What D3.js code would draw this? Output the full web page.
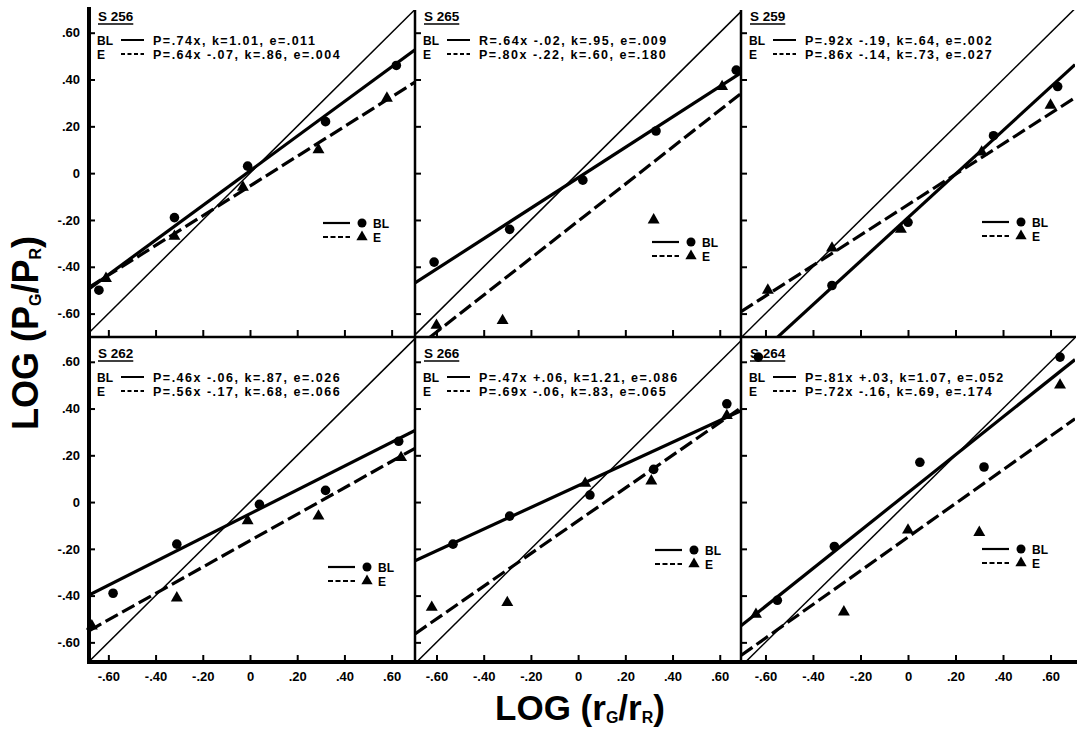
<!DOCTYPE html>
<html>
<head>
<meta charset="utf-8">
<script src="https://cdn.jsdelivr.net/npm/d3@7"></script>
<style>
  body { margin: 0; background: #fff; }
  svg text { font-family: "Liberation Sans", Arial, sans-serif; font-weight: bold; fill: #000; }
</style>
</head>
<body>
<svg id="chart" width="1081" height="729"></svg>
<script>
// ---- data ----
const panelNames = ["S 256", "S 265", "S 259", "S 262", "S 266", "S 264"];

const blEquations = [
    "P=.74x, k=1.01, e=.011",
    "R=.64x -.02, k=.95, e=.009",
    "P=.92x -.19, k=.64, e=.002",
    "P=.46x -.06, k=.87, e=.026",
    "P=.47x +.06, k=1.21, e=.086",
    "P=.81x +.03, k=1.07, e=.052"
];
const eEquations = [
    "P=.64x -.07, k=.86, e=.004",
    "P=.80x -.22, k=.60, e=.180",
    "P=.86x -.14, k=.73, e=.027",
    "P=.56x -.17, k=.68, e=.066",
    "P=.69x -.06, k=.83, e=.065",
    "P=.72x -.16, k=.69, e=.174"
];

// BL points (circles)
const blX = [
    [-0.64, -0.32, -0.01, 0.32, 0.62],
    [-0.61, -0.29, 0.02, 0.33, 0.67],
    [-0.32, 0.00, 0.36, 0.63],
    [-0.58, -0.31, 0.04, 0.32, 0.63],
    [-0.53, -0.29, 0.05, 0.32, 0.63],
    [-0.63, -0.55, -0.31, 0.05, 0.32, 0.64]
];
const blY = [
    [-0.50, -0.19, 0.03, 0.22, 0.46],
    [-0.38, -0.24, -0.03, 0.18, 0.44],
    [-0.48, -0.21, 0.16, 0.37],
    [-0.39, -0.18, -0.01, 0.05, 0.26],
    [-0.18, -0.06, 0.03, 0.14, 0.42],
    [0.62, -0.42, -0.19, 0.17, 0.15, 0.62]
];

// E points (triangles)
const eX = [
    [-0.61, -0.32, -0.03, 0.29, 0.58],
    [-0.60, -0.32, 0.32, 0.61],
    [-0.59, -0.32, -0.03, 0.31, 0.60],
    [-0.67, -0.31, -0.01, 0.29, 0.64],
    [-0.62, -0.30, 0.03, 0.31, 0.63],
    [-0.64, -0.27, 0.00, 0.30, 0.64]
];
const eY = [
    [-0.45, -0.27, -0.06, 0.10, 0.32],
    [-0.65, -0.63, -0.20, 0.37],
    [-0.50, -0.32, -0.24, 0.09, 0.29],
    [-0.53, -0.41, -0.08, -0.06, 0.19],
    [-0.45, -0.43, 0.08, 0.09, 0.37],
    [-0.48, -0.47, -0.12, -0.13, 0.50]
];

// fitted lines as drawn: [slope, intercept]
const blFit = [[0.74, 0.01], [0.65, -0.02], [0.93, -0.19], [0.51, -0.05], [0.465, 0.07], [0.81, 0.04]];
const eFit = [[0.635, -0.055], [0.79, -0.205], [0.65, -0.135], [0.565, -0.165], [0.70, -0.08], [0.72, -0.15]];

const tickValues = [-0.6, -0.4, -0.2, 0, 0.2, 0.4, 0.6];
const tickLabels = ["-.60", "-.40", "-.20", "0", ".20", ".40", ".60"];

// ---- layout ----
const colLeft = [89, 415, 741];
const colWidth = [326, 326, 334];
const rowTop = [10, 337];
const rowHeight = [327, 325];
const textTop = [0, 337];
const xDomains = [[-0.682, 0.699], [-0.691, 0.690], [-0.703, 0.703]];
const yDomains = [[-0.70, 0.697], [-0.684, 0.706]];
// legend: [line start x offset, first row y offset]
const legendPos = [[234, 223], [237, 242], [241, 222], [239, 230], [240, 213], [241, 212]];

const svg = d3.select("#chart");
const fmt = d => tickLabels[tickValues.indexOf(d)];

panelNames.forEach((name, i) => {
    const c = i % 3, r = Math.floor(i / 3);
    const left = colLeft[c], top = rowTop[r];
    const bottom = top + rowHeight[r];

    const x = d3.scaleLinear().domain(xDomains[c]).range([left, left + colWidth[c]]);
    const y = d3.scaleLinear().domain(yDomains[r]).range([bottom, top]);

    svg.append("clipPath").attr("id", "clip" + i)
        .append("rect")
        .attr("x", left).attr("y", top)
        .attr("width", colWidth[c]).attr("height", rowHeight[r]);

    const g = svg.append("g");
    const plot = g.append("g").attr("clip-path", `url(#clip${i})`);
    const line = d3.line().x(d => x(d[0])).y(d => y(d[1]));
    const xd = x.domain();

    // identity line
    plot.append("path")
        .datum(xd.map(v => [v, v]))
        .attr("d", line)
        .attr("fill", "none").attr("stroke", "#000").attr("stroke-width", 1.5);

    // BL fit (solid)
    plot.append("path")
        .datum(xd.map(v => [v, blFit[i][0] * v + blFit[i][1]]))
        .attr("d", line)
        .attr("fill", "none").attr("stroke", "#000").attr("stroke-width", 3.2);

    // E fit (dashed)
    plot.append("path")
        .datum(xd.map(v => [v, eFit[i][0] * v + eFit[i][1]]))
        .attr("d", line)
        .attr("fill", "none").attr("stroke", "#000").attr("stroke-width", 3.2)
        .attr("stroke-dasharray", "14,5");

    // points
    g.selectAll(".bl")
        .data(blX[i].map((v, k) => [v, blY[i][k]]))
        .enter().append("circle")
        .attr("cx", d => x(d[0])).attr("cy", d => y(d[1]))
        .attr("r", 4.8).attr("fill", "#000");

    g.selectAll(".e")
        .data(eX[i].map((v, k) => [v, eY[i][k]]))
        .enter().append("path")
        .attr("d", d3.symbol(d3.symbolTriangle, 62))
        .attr("transform", d => `translate(${x(d[0])},${y(d[1])})`)
        .attr("fill", "#000");

    // ticks (inward)
    g.append("g")
        .attr("transform", `translate(${left},0)`)
        .call(d3.axisRight(y).tickValues(tickValues).tickSize(6).tickFormat(""))
        .call(a => a.select(".domain").remove())
        .call(a => a.selectAll("line").attr("stroke-width", 2));

    g.append("g")
        .attr("transform", `translate(0,${bottom})`)
        .call(d3.axisTop(x).tickValues(tickValues).tickSize(7).tickFormat(""))
        .call(a => a.select(".domain").remove())
        .call(a => a.selectAll("line").attr("stroke-width", 2));

    // tick labels on outer axes
    if (c === 0) {
        g.append("g")
            .attr("transform", `translate(${left - 2},0)`)
            .call(d3.axisLeft(y).tickValues(tickValues).tickSize(0).tickPadding(7).tickFormat(fmt))
            .call(a => a.select(".domain").remove())
            .call(a => a.selectAll("text").style("font-size", "13px"));
    }
    if (r === 1) {
        g.append("g")
            .attr("transform", `translate(0,${bottom + 2})`)
            .call(d3.axisBottom(x).tickValues(tickValues).tickSize(0).tickPadding(8).tickFormat(fmt))
            .call(a => a.select(".domain").remove())
            .call(a => a.selectAll("text").style("font-size", "13px"));
    }

    // panel annotation
    const tt = textTop[r];
    const title = g.append("text")
        .attr("x", left + 9).attr("y", tt + 21)
        .style("font-size", "13.5px")
        .text(name);
    const tw = title.node().getComputedTextLength();
    g.append("line")
        .attr("x1", left + 9).attr("x2", left + 9 + tw)
        .attr("y1", tt + 24).attr("y2", tt + 24)
        .attr("stroke", "#000").attr("stroke-width", 1.6);

    [["BL", blEquations[i], null], ["E", eEquations[i], "4,2.5"]].forEach((row, k) => {
        const yy = tt + 40 + k * 14;
        g.append("text").attr("x", left + 8).attr("y", yy + 4.5)
            .style("font-size", "12px").text(row[0]);
        g.append("line")
            .attr("x1", left + 32).attr("x2", left + 55)
            .attr("y1", yy).attr("y2", yy)
            .attr("stroke", "#000").attr("stroke-width", 2)
            .attr("stroke-dasharray", row[2]);
        g.append("text").attr("x", left + 64).attr("y", yy + 4.5)
            .style("font-size", "12.5px").style("letter-spacing", "1.5px")
            .text(row[1]);
    });

    // small legend
    const [lx, ly] = legendPos[i];
    [["BL", null, "circle"], ["E", "5,2.5", "tri"]].forEach((row, k) => {
        const yy = tt + ly + k * 14;
        g.append("line")
            .attr("x1", left + lx).attr("x2", left + lx + 27)
            .attr("y1", yy).attr("y2", yy)
            .attr("stroke", "#000").attr("stroke-width", 2.2)
            .attr("stroke-dasharray", row[1]);
        if (row[2] === "circle") {
            g.append("circle").attr("cx", left + lx + 39).attr("cy", yy).attr("r", 4.5).attr("fill", "#000");
        } else {
            g.append("path").attr("d", d3.symbol(d3.symbolTriangle, 55))
                .attr("transform", `translate(${left + lx + 39},${yy})`).attr("fill", "#000");
        }
        g.append("text").attr("x", left + lx + 50).attr("y", yy + 4.5)
            .style("font-size", "12px").text(row[0]);
    });
});

// frame: outer axes thick, dividers thinner
const frame = svg.append("g").attr("stroke", "#000");
frame.append("line").attr("x1", colLeft[0]).attr("x2", colLeft[0])
    .attr("y1", 7).attr("y2", rowTop[1] + rowHeight[1] + 2).attr("stroke-width", 4);
frame.append("line").attr("x1", colLeft[0] - 2).attr("x2", 1077)
    .attr("y1", rowTop[1] + rowHeight[1]).attr("y2", rowTop[1] + rowHeight[1]).attr("stroke-width", 4);
frame.append("line").attr("x1", colLeft[0]).attr("x2", 1076)
    .attr("y1", rowTop[1]).attr("y2", rowTop[1]).attr("stroke-width", 2.5);
[1, 2].forEach(c => {
    frame.append("line").attr("x1", colLeft[c]).attr("x2", colLeft[c])
        .attr("y1", rowTop[0]).attr("y2", rowTop[1] + rowHeight[1]).attr("stroke-width", 2.5);
});

// axis titles
const yTitle = svg.append("text")
    .attr("transform", "translate(38,333) rotate(-90)")
    .attr("text-anchor", "middle")
    .style("font-size", "36px");
yTitle.append("tspan").text("LOG (P");
yTitle.append("tspan").attr("dy", 3).style("font-size", "16px").text("G");
yTitle.append("tspan").attr("dy", -3).text("/P");
yTitle.append("tspan").attr("dy", 3).style("font-size", "16px").text("R");
yTitle.append("tspan").attr("dy", -3).text(")");

const xTitle = svg.append("text")
    .attr("x", 580).attr("y", 720)
    .attr("text-anchor", "middle")
    .style("font-size", "35px");
xTitle.append("tspan").text("LOG (r");
xTitle.append("tspan").attr("dy", 3).style("font-size", "16px").text("G");
xTitle.append("tspan").attr("dy", -3).text("/r");
xTitle.append("tspan").attr("dy", 3).style("font-size", "16px").text("R");
xTitle.append("tspan").attr("dy", -3).text(")");
</script>
</body>
</html>
